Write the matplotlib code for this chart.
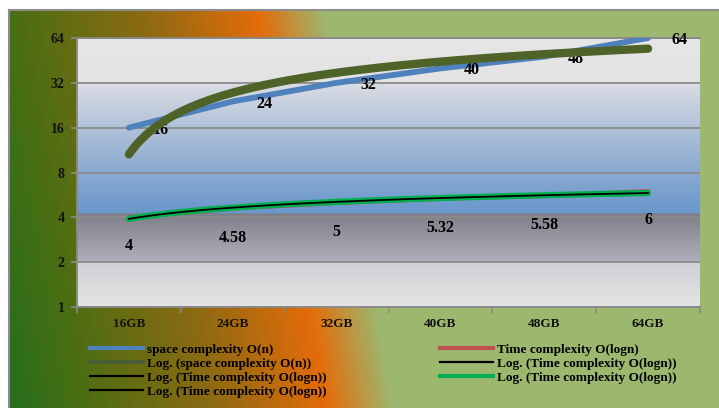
import numpy as np
import matplotlib
matplotlib.use("Agg")
import matplotlib.pyplot as plt
from matplotlib.colors import LinearSegmentedColormap, to_rgb
from matplotlib.lines import Line2D

# データ
categories = ["16GB", "24GB", "32GB", "40GB", "48GB", "64GB"]
space_values = [16, 24, 32, 40, 48, 64]
time_values = [4, 4.58, 5, 5.32, 5.58, 6]
time_labels = ["4", "4.58", "5", "5.32", "5.58", "6"]
y_ticks = [1, 2, 4, 8, 16, 32, 64]

SERIF = ["Liberation Serif", "DejaVu Serif"]
plt.rcParams["font.family"] = SERIF
plt.rcParams["font.weight"] = "bold"

W, H, DPI = 719, 408, 100


def log_trend(values, xs):
    """Excelの対数近似 y = a*ln(x) + b (x = 1..n)"""
    n = np.arange(1, len(values) + 1)
    a, b = np.polyfit(np.log(n), values, 1)
    return a * np.log(xs + 1) + b


def gradient_cmap(stops):
    return LinearSegmentedColormap.from_list("g", [(p, to_rgb(c)) for p, c in stops])


fig = plt.figure(figsize=(W / DPI, H / DPI), dpi=DPI)
fig.patch.set_facecolor("white")

# 1. 外枠の背景グラデーション (緑 → オレンジ → 薄緑, 斜め)
bg = fig.add_axes([9 / W, 0, (W - 9) / W, (H - 10) / H], zorder=-2)
yy, xx = np.mgrid[10:H, 9:W]
t = xx - 0.176 * yy
t_stops = [(-75, "#1f6e1e"), (10, "#4b6e12"), (140, "#8c6a12"),
           (255, "#e46c0a"), (322, "#9cb86f"), (800, "#9cb86f")]
tmin, tmax = t_stops[0][0], t_stops[-1][0]
cm_bg = gradient_cmap([((p - tmin) / (tmax - tmin), c) for p, c in t_stops])
bg.imshow((t - tmin) / (tmax - tmin), cmap=cm_bg, vmin=0, vmax=1,
          aspect="auto", interpolation="bilinear")
bg.set_xticks([])
bg.set_yticks([])
for side in ["right", "bottom"]:
    bg.spines[side].set_visible(False)
for side in ["top", "left"]:
    bg.spines[side].set_color("#8c8c8c")
    bg.spines[side].set_linewidth(1.5)

# 2. プロット領域
L, T, R, B = 77, 38, 700, 307
ax = fig.add_axes([L / W, (H - B) / H, (R - L) / W, (B - T) / H])
ax.set_facecolor("none")

area_stops = [(0.0, "#e4e4e6"), (0.167, "#d0d0d4"), (0.167, "#b0b0bc"),
              (0.349, "#7e7e88"), (0.349, "#6a98cb"), (0.502, "#8aa9d0"),
              (0.665, "#b0c2d8"), (0.829, "#d9dce4"), (0.829, "#e3e3e4"),
              (1.0, "#e6e6e6")]
grad = np.linspace(0, 1, 600).reshape(-1, 1)
ax.imshow(grad, cmap=gradient_cmap(area_stops), origin="lower",
          extent=[0, 1, 0, 1], transform=ax.transAxes, aspect="auto", zorder=0)

x = np.arange(len(categories))
xs = np.linspace(0, len(categories) - 1, 200)

ax.set_yscale("log", base=2)
ax.set_ylim(1, 64)
ax.set_xlim(-0.5, len(categories) - 0.5)
ax.set_yticks(y_ticks)
ax.set_yticklabels([str(v) for v in y_ticks])
ax.yaxis.set_minor_locator(matplotlib.ticker.NullLocator())
ax.set_xticks(x)
ax.set_xticklabels(categories)
ax.set_xticks(np.arange(-0.5, len(categories)), minor=True)
ax.grid(axis="y", color="#8a8a8a", linewidth=1.3, zorder=1)
ax.set_axisbelow(False)
ax.tick_params(axis="x", which="major", length=0, pad=8, labelsize=9.5)
ax.tick_params(axis="x", which="minor", length=4, color="#8a8a8a", width=1.2)
ax.tick_params(axis="y", length=4, color="#8a8a8a", width=1.2, pad=5, labelsize=10)
for lab in ax.get_xticklabels() + ax.get_yticklabels():
    lab.set_fontweight("bold")
    lab.set_color("#111111")
ax.spines["right"].set_visible(False)
for side in ["top", "left", "bottom"]:
    ax.spines[side].set_color("#8a8a8a")
    ax.spines[side].set_linewidth(1.3)

# 3. 系列と近似曲線
ax.plot(x, time_values, color="#c0504d", lw=3, solid_capstyle="round", zorder=2)
time_trend = log_trend(time_values, xs)
ax.plot(xs, time_trend, color="#00b050", lw=4.5, solid_capstyle="round", zorder=3)
ax.plot(xs, time_trend, color="black", lw=1.3, zorder=4)

ax.plot(x, space_values, color="#4f81bd", lw=4.2, solid_capstyle="round", zorder=5)

for xi, v in zip(x, space_values):
    ax.annotate(str(v), (xi, v), xytext=(17, -1.5), textcoords="offset points",
                ha="left", va="center", fontsize=11.5, fontweight="bold", zorder=6)
for xi, v, s in zip(x, time_values, time_labels):
    ax.annotate(s, (xi, v), xytext=(0, -21), textcoords="offset points",
                ha="center", va="center", fontsize=11.5, fontweight="bold", zorder=6)

ax.plot(xs, log_trend(space_values, xs), color="#4f6228", lw=6,
        solid_capstyle="round", zorder=7)

# 4. 凡例 (2列)
def h(color, lw):
    return Line2D([], [], color=color, lw=lw)


left_items = [(h("#4f81bd", 3), "space complexity O(n)"),
              (h("#4a5e36", 3), "Log. (space complexity O(n))"),
              (h("black", 1.6), "Log. (Time complexity O(logn))"),
              (h("black", 1.6), "Log. (Time complexity O(logn))")]
right_items = [(h("#c0504d", 3), "Time complexity O(logn)"),
               (h("black", 1.6), "Log. (Time complexity O(logn))"),
               (h("#00b050", 3), "Log. (Time complexity O(logn))")]

leg_kw = dict(loc="upper left", frameon=False, borderpad=0, borderaxespad=0,
              handlelength=4.0, handletextpad=0.3, labelspacing=0.14,
              prop={"family": SERIF, "weight": "bold", "size": 9.5})
for items, x0 in [(left_items, 90), (right_items, 440)]:
    hs, ls = zip(*items)
    fig.legend(hs, ls, bbox_to_anchor=(x0 / W, 1 - 343.5 / H), **leg_kw)

fig.savefig("out.png", dpi=DPI)
